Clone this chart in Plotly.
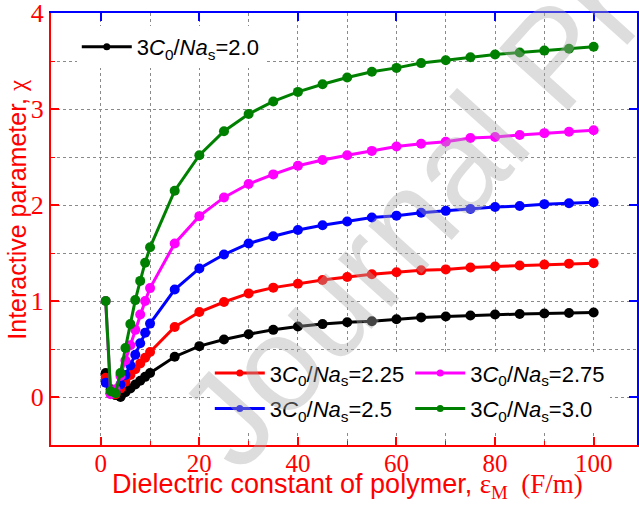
import plotly.graph_objects as go

eps = [1, 2, 3, 4, 5, 6, 7, 8, 9, 10, 15, 20, 25, 30, 35, 40, 45, 50, 55, 60, 65, 70, 75, 80, 85, 90, 95, 100]

chi_20 = [0.25, 0.08, 0.02, 0.00, 0.05, 0.09, 0.13, 0.17, 0.21, 0.25, 0.42, 0.53, 0.60, 0.655, 0.70, 0.735,
          0.76, 0.78, 0.79, 0.81, 0.83, 0.84, 0.85, 0.86, 0.865, 0.87, 0.875, 0.88]
chi_225 = [0.20, 0.04, 0.03, 0.09, 0.16, 0.23, 0.29, 0.35, 0.41, 0.47, 0.73, 0.886, 0.99, 1.08, 1.14, 1.18,
           1.22, 1.25, 1.28, 1.30, 1.32, 1.33, 1.35, 1.36, 1.37, 1.38, 1.39, 1.395]
chi_25 = [0.15, 0.04, 0.05, 0.13, 0.23, 0.33, 0.44, 0.56, 0.67, 0.765, 1.12, 1.34, 1.485, 1.60, 1.675, 1.74,
          1.79, 1.83, 1.87, 1.89, 1.92, 1.94, 1.96, 1.98, 1.99, 2.01, 2.02, 2.03]
chi_275 = [1.00, 0.03, 0.08, 0.22, 0.38, 0.54, 0.70, 0.86, 1.00, 1.135, 1.60, 1.885, 2.08, 2.22, 2.32, 2.41,
           2.47, 2.52, 2.565, 2.61, 2.64, 2.66, 2.70, 2.71, 2.73, 2.75, 2.765, 2.78]
chi_30 = [1.00, 0.06, 0.04, 0.25, 0.51, 0.76, 1.01, 1.21, 1.40, 1.56, 2.15, 2.52, 2.77, 2.95, 3.08, 3.18,
          3.26, 3.33, 3.39, 3.43, 3.48, 3.51, 3.54, 3.57, 3.59, 3.61, 3.63, 3.65]

series_names = ["2.0", "2.25", "2.5", "2.75", "3.0"]
series_vals = [chi_20, chi_225, chi_25, chi_275, chi_30]
series_colors = ["#000000", "#ff0000", "#0000ff", "#ff00ff", "#008000"]
series_legend = ["legend", "legend2", "legend2", "legend3", "legend3"]

x_ticks = [0, 20, 40, 60, 80, 100]
y_ticks = [0, 1, 2, 3, 4]

fig = go.Figure()
for name, vals, col in zip(series_names, series_vals, series_colors):
    fig.add_trace(go.Scatter(
        x=eps, y=vals, mode="lines+markers", showlegend=False,
        line=dict(color=col, width=3),
        marker=dict(color=col, size=10),
    ))
# legend entries (smaller symbols, as in the reference)
for name, col, lg in zip(series_names, series_colors, series_legend):
    fig.add_trace(go.Scatter(
        x=[None], y=[None], mode="lines+markers",
        name="3<i>C</i><sub>0</sub>/<i>Na</i><sub>s</sub>=" + name,
        line=dict(color=col, width=3), marker=dict(color=col, size=7),
        legend=lg, legendgroup=name, hoverinfo="skip",
    ))

# helper trace for the mirrored (top/right) axes
fig.add_trace(go.Scatter(x=[None], y=[None], xaxis="x2", yaxis="y2", showlegend=False, hoverinfo="skip"))

red = "#ff0000"
blue = "#0000ff"
grid = "#8a8a8a"
xr = [-10.1, 108.8]
yr = [-0.5, 4.002]

legfont = dict(family="Liberation Sans", size=22, color="black")

fig.update_layout(
    width=639, height=507,
    margin=dict(l=51, r=2, t=13, b=62),
    paper_bgcolor="white", plot_bgcolor="white",
    font=dict(family="Liberation Sans", color="black"),
    xaxis=dict(
        range=xr, tickvals=x_ticks, ticks="inside", ticklen=8, tickwidth=2, tickcolor=red,
        showline=True, linecolor=red, linewidth=2, zeroline=False, automargin=False,
        showgrid=True, gridcolor=grid, griddash="dot", gridwidth=1,
        minor=dict(dtick=10, tick0=0, ticks="inside", ticklen=4, tickwidth=1, tickcolor=red,
                   showgrid=True, gridcolor=grid, griddash="dot", gridwidth=1),
        tickfont=dict(family="Liberation Serif", size=25, color=red), ticklabelstandoff=-5,
        ticklabeloverflow="allow",
    ),
    yaxis=dict(
        range=yr, tickvals=y_ticks, ticks="inside", ticklen=8, tickwidth=2, tickcolor=red,
        showline=True, linecolor=red, linewidth=2, zeroline=False, automargin=False,
        showgrid=True, gridcolor=grid, griddash="dot", gridwidth=1,
        minor=dict(dtick=0.5, tick0=0, ticks="inside", ticklen=4, tickwidth=1, tickcolor=red,
                   showgrid=True, gridcolor=grid, griddash="dot", gridwidth=1),
        tickfont=dict(family="Liberation Serif", size=26, color=red),
        ticklabeloverflow="allow",
    ),
    xaxis2=dict(
        range=xr, overlaying="x", side="top", tickvals=x_ticks, ticks="inside", ticklen=8, tickwidth=2,
        tickcolor=blue, showline=True, linecolor=blue, linewidth=2, showticklabels=False,
        showgrid=False, zeroline=False, automargin=False,
    ),
    yaxis2=dict(
        range=yr, overlaying="y", side="right", tickvals=y_ticks, ticks="inside", ticklen=8, tickwidth=2,
        tickcolor=blue, showline=True, linecolor=blue, linewidth=2, showticklabels=False,
        showgrid=False, zeroline=False, automargin=False,
    ),
    legend=dict(x=0.044, y=0.97, xanchor="left", yanchor="top", bgcolor="white",
                font=legfont, itemwidth=50, tracegroupgap=4),
    legend2=dict(x=0.271, y=0.215, xanchor="left", yanchor="top", bgcolor="white",
                 font=legfont, itemwidth=50, tracegroupgap=4),
    legend3=dict(x=0.613, y=0.215, xanchor="left", yanchor="top", bgcolor="white",
                 font=legfont, itemwidth=50, tracegroupgap=4),
    showlegend=True,
)

# axis titles placed as text so they sit where the reference has them
fig.add_annotation(
    text="Interactive parameter, <span style='font-family:Liberation Serif'>χ</span>",
    xref="paper", yref="paper", x=-0.0585, y=(445 - 210) / 432, xanchor="center", yanchor="middle",
    showarrow=False, textangle=-90,
    font=dict(family="Liberation Sans", size=25, color=red),
)
fig.add_annotation(
    text="Dielectric constant of polymer, <span style='font-family:Liberation Serif'>ε<sub>M</sub>  (F/m)</span>",
    xref="paper", yref="paper", x=(347 - 51) / 586, y=(445 - 486) / 432, xanchor="center", yanchor="middle",
    showarrow=False,
    font=dict(family="Liberation Sans", size=27, color=red),
)

fig.add_annotation(
    text="Journal Pre-proof", x=92, y=3.55, xref="x", yref="y",
    xanchor="center", yanchor="middle", showarrow=False, textangle=-48,
    font=dict(family="Liberation Sans", size=135, color="rgba(170,170,170,0.40)"),
)

fig.write_html("out.html", config={"displayModeBar": False},
               post_script="document.body.style.margin='0';")
